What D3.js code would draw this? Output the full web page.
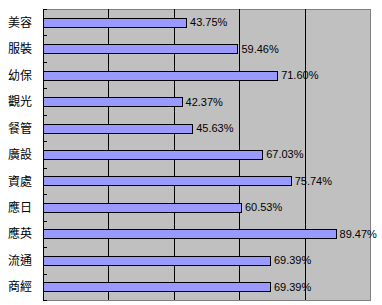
<!DOCTYPE html>
<html><head><meta charset="utf-8">
<script src="https://cdn.jsdelivr.net/npm/d3@7"></script>
<style>body{margin:0;background:#fff}svg{display:block}</style>
</head><body>
<script>
const categories = ["美容","服裝","幼保","觀光","餐管","廣設","資處","應日","應英","流通","商經"];
const values = [43.75,59.46,71.60,42.37,45.63,67.03,75.74,60.53,89.47,69.39,69.39];
const xTicks = [0,20,40,60,80,100];

const W=382,H=305;
const L=43,R=370,T=9,B=300;
const svg=d3.select("body").append("svg").attr("width",W).attr("height",H);

const x=d3.scaleLinear().domain([0,100]).range([L,R]);
const y=d3.scaleBand().domain(categories).range([T,B]).paddingInner(0.66).paddingOuter(0.33);

svg.append("rect").attr("x",L).attr("y",T).attr("width",R-L).attr("height",B-T)
  .attr("fill","#c0c0c0").attr("stroke","#808080").attr("stroke-width",1)
  .attr("transform","translate(0.5,0.5)");

// gridlines
svg.append("g").selectAll("line").data(xTicks.slice(1,-1)).join("line")
  .attr("x1",d=>Math.round(x(d))+0.5).attr("x2",d=>Math.round(x(d))+0.5)
  .attr("y1",T).attr("y2",B).attr("stroke","#000");

// bars
svg.append("g").selectAll("rect").data(categories).join("rect")
  .attr("x",L+0.5).attr("y",d=>Math.round(y(d))+0.5)
  .attr("width",(d,i)=>Math.round(x(values[i])-L))
  .attr("height",Math.round(y.bandwidth()))
  .attr("fill","#9999ff").attr("stroke","#000");

// value labels
svg.append("g").selectAll("text").data(categories).join("text")
  .attr("x",(d,i)=>x(values[i])+4).attr("y",d=>y(d)+y.bandwidth()/2)
  .attr("dy","0.36em").attr("font-family","Liberation Sans, Arial, sans-serif")
  .attr("font-size",11).attr("fill","#000")
  .text((d,i)=>values[i].toFixed(2)+"%");

// category axis
const bounds=[];
const step=(B-T)/categories.length;
for(let i=0;i<=categories.length;i++) bounds.push(T+i*step);
svg.append("line").attr("x1",L+0.5).attr("x2",L+0.5).attr("y1",T).attr("y2",B+1).attr("stroke","#000");
svg.append("g").selectAll("line").data(bounds).join("line")
  .attr("x1",L).attr("x2",L+4).attr("y1",d=>Math.round(d)+0.5).attr("y2",d=>Math.round(d)+0.5).attr("stroke","#000");
svg.append("g").selectAll("text").data(categories).join("text")
  .attr("x",32).attr("y",d=>y(d)+y.bandwidth()/2).attr("dy","0.38em")
  .attr("text-anchor","end").attr("font-family","Noto Sans CJK TC, sans-serif")
  .attr("font-size",12).attr("fill","#000").text(d=>d);
</script>
</body></html>
